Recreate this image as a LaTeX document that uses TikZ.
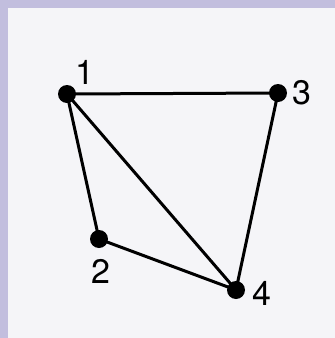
\documentclass[tikz,border=0pt]{standalone}
\usepackage{fontspec}
\setmainfont{TeX Gyre Heros}
\definecolor{frame}{HTML}{C2BEDE}
\definecolor{panel}{HTML}{F5F5F8}
\tikzset{
  vertex/.style={circle,fill=black,inner sep=0pt,minimum size=18pt},
  edge/.style={line width=3pt,black},
  lbl/.style={font=\fontsize{34}{34}\selectfont,inner sep=0pt}
}
\begin{document}
\begin{tikzpicture}[x=1pt,y=-1pt]
\useasboundingbox (0,0) rectangle (335,338);
\fill[frame] (0,0) rectangle (335,338);
\fill[panel] (8,8) rectangle (335,338);
\node[vertex] (v1) at (67,94) {};
\node[vertex] (v3) at (278,93) {};
\node[vertex] (v2) at (99,239) {};
\node[vertex] (v4) at (236,290) {};
\draw[edge] (v1.center) -- (v3.center);
\draw[edge] (v1.center) -- (v2.center);
\draw[edge] (v1.center) -- (v4.center);
\draw[edge] (v2.center) -- (v4.center);
\draw[edge] (v3.center) -- (v4.center);
\node[lbl] (l1) at (85,72) {1};
\node[lbl] (l3) at (302,93) {3};
\node[lbl] (l2) at (101,271) {2};
\node[lbl] (l4) at (262,293) {4};
\end{tikzpicture}
\end{document}
